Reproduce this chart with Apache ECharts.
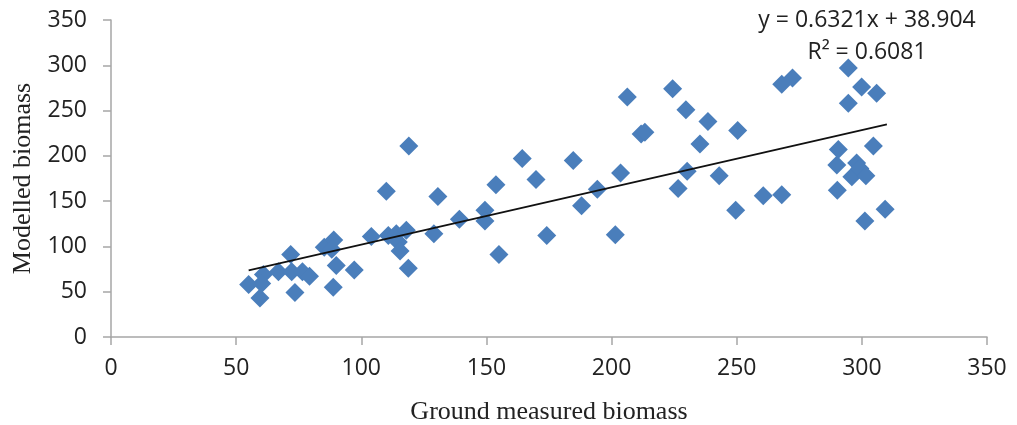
<!DOCTYPE html>
<html>
<head>
<meta charset="utf-8">
<script src="https://cdn.jsdelivr.net/npm/echarts@6/dist/echarts.min.js"></script>
<style>html,body{margin:0;padding:0;background:#fff}#c{width:1017px;height:425px}</style>
</head>
<body>
<div id="c"></div>
<script>
const groundMeasured = [55,59.5,60.9,60.2,66.9,71.8,72.2,73.5,76.5,79.3,85.2,89,88.2,90,88.8,97.2,104,110,110.8,114,114.8,115.5,118,118.8,119,129,130.6,139.2,149.4,149.4,153.8,155,164.3,169.8,174.1,184.7,188,194.3,201.5,203.6,206.3,211.8,213.3,224.4,226.6,229.7,230.2,235.3,238.5,243,249.6,250.4,260.6,268,268,272.3,290,290.2,290.6,294.6,294.6,296,297.9,299.2,299.9,301.2,301.6,304.6,305.9,309.3];
const modelled = [58,43,69,59,72,91,72,49,72,67,99,107,97,79,55,74,111,161,112,114,105,95,118,76,211,114,155,130,140,128,168,91,197,174,112,195,145,163,113,181,265,224,226,274,164,251,183,213,238,178,140,228,156,157,279,286,190,162,207,297,258,177,192,186,276,128,178,211,269,141];
const slope = 0.6321, intercept = 38.904;
const trendRange = [55, 310];
const xTicks = [0, 50, 100, 150, 200, 250, 300, 350];
const yTicks = [0, 50, 100, 150, 200, 250, 300, 350];
const equationText = 'y = 0.6321x + 38.904';
const r2Text = 'R² = 0.6081';
const xTitle = 'Ground measured biomass';
const yTitle = 'Modelled biomass';

const points = groundMeasured.map((x, i) => [x, modelled[i]]);
const trend = trendRange.map(x => [x, slope * x + intercept]);

const sans = '"Open Sans", "Liberation Sans", Arial, sans-serif';
const serif = '"Liberation Serif", "Times New Roman", serif';
const chart = echarts.init(document.getElementById('c'));
const axisCommon = {
  min: 0, max: 350, interval: 50,
  axisLine: {show: true, lineStyle: {color: '#a6a6a6', width: 1.5}},
  axisTick: {show: true, inside: false, length: 8, lineStyle: {color: '#a6a6a6', width: 1.5}},
  splitLine: {show: false},
  axisLabel: {color: '#222', fontSize: 23, fontFamily: sans, margin: 24},
  nameTextStyle: {color: '#222', fontSize: 26, fontFamily: serif}
};
chart.setOption({
  animation: false,
  grid: {left: 111, right: 30, top: 20, bottom: 88, containLabel: false, outerBoundsMode: 'none'},
  xAxis: Object.assign({}, axisCommon, {
    type: 'value', name: xTitle, nameLocation: 'middle', nameGap: 62,
    axisLabel: Object.assign({}, axisCommon.axisLabel, {margin: 20})
  }),
  yAxis: Object.assign({}, axisCommon, {
    type: 'value', name: yTitle, nameLocation: 'middle', nameGap: 75, nameRotate: 90
  }),
  graphic: [
    {type: 'text', style: {text: equationText, x: 867, y: 20, align: 'center', verticalAlign: 'middle', fill: '#222', font: '23px ' + sans}},
    {type: 'text', style: {text: r2Text, x: 867, y: 52, align: 'center', verticalAlign: 'middle', fill: '#222', font: '23px ' + sans}}
  ],
  series: [
    {type: 'scatter', data: points, symbol: 'diamond', symbolSize: 19, itemStyle: {color: '#4A7EBB', opacity: 1}, z: 2},
    {type: 'line', data: trend, symbol: 'none', lineStyle: {color: '#111', width: 1.8}, z: 3}
  ]
});
</script>
</body>
</html>
